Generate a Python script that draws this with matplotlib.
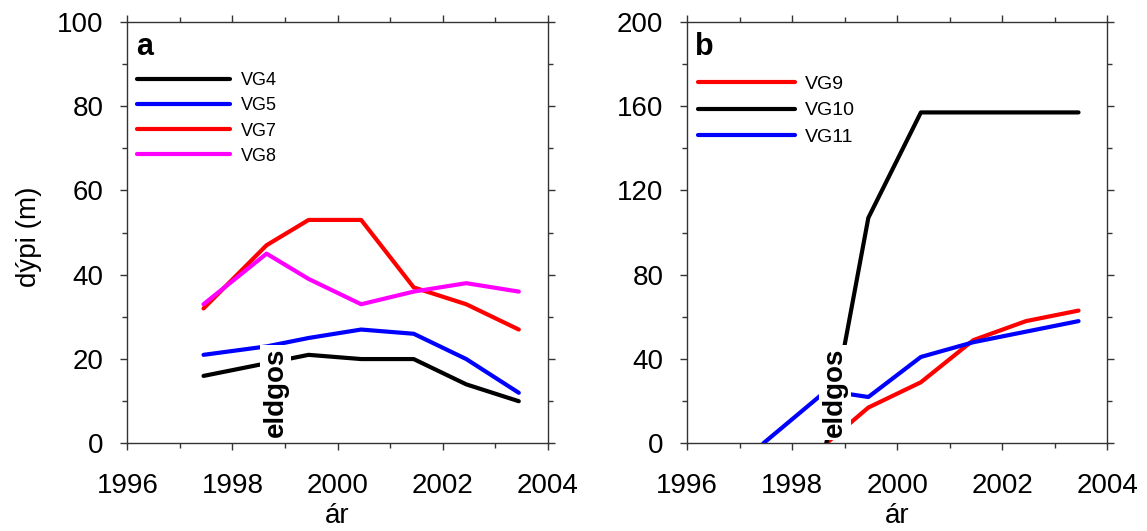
import matplotlib
matplotlib.use("Agg")
import matplotlib.pyplot as plt
from matplotlib.ticker import MultipleLocator

plt.rcParams['font.family'] = ['Liberation Sans', 'DejaVu Sans']

# ---- data (panel a) ----
years_a = [1997.45, 1998.65, 1999.45, 2000.45, 2001.45, 2002.45, 2003.45]
vg4 = [16, 19, 21, 20, 20, 14, 10]
vg5 = [21, 23, 25, 27, 26, 20, 12]
vg7 = [32, 47, 53, 53, 37, 33, 27]
vg8 = [33, 45, 39, 33, 36, 38, 36]

# ---- data (panel b) ----
years_b9 = [1998.65, 1999.45, 2000.45, 2001.45, 2002.45, 2003.45]
vg9 = [0, 17, 29, 49, 58, 63]
years_b10 = [1998.65, 1999.45, 2000.45, 2001.45, 2002.45, 2003.45]
vg10 = [0, 107, 157, 157, 157, 157]
years_b11 = [1997.45, 1998.65, 1999.45, 2000.45, 2001.45, 2002.45, 2003.45]
vg11 = [0, 25, 22, 41, 48, 53, 58]

eruption_year = 1998.82

fig = plt.figure(figsize=(11.47, 5.31), dpi=100)
axA = fig.add_axes([0.111, 0.165, 0.3665, 0.794])
axB = fig.add_axes([0.599, 0.165, 0.3665, 0.794])

LW = 3
FS = 20

def style(ax, ymax, ymaj, ymin):
    ax.set_xlim(1996, 2004)
    ax.set_ylim(0, ymax)
    ax.xaxis.set_major_locator(MultipleLocator(2))
    ax.xaxis.set_minor_locator(MultipleLocator(1))
    ax.yaxis.set_major_locator(MultipleLocator(ymaj))
    ax.yaxis.set_minor_locator(MultipleLocator(ymin))
    ax.tick_params(which='major', direction='out', top=True, right=True,
                   length=5, width=1.0, color='#333333')
    ax.tick_params(which='minor', direction='out', top=True, right=True,
                   length=3.3, width=1.0, color='#333333')
    ax.tick_params(axis='x', which='major', labelsize=FS, pad=16)
    ax.tick_params(axis='y', which='major', labelsize=FS, pad=12)
    for s in ax.spines.values():
        s.set_linewidth(1.0)
        s.set_color('#333333')
    ax.set_xlabel('ár', fontsize=FS, labelpad=3)

# panel a
style(axA, 100, 20, 10)
axA.plot(years_a, vg4, color='black', lw=LW, label='VG4', solid_capstyle='round')
axA.plot(years_a, vg5, color='#0000ff', lw=LW, label='VG5', solid_capstyle='round')
axA.plot(years_a, vg7, color='#ff0000', lw=LW, label='VG7', solid_capstyle='round')
axA.plot(years_a, vg8, color='#ff00ff', lw=LW, label='VG8', solid_capstyle='round')
axA.set_ylabel('dýpi (m)', fontsize=FS)
axA.yaxis.label.set(va='center', ha='center', rotation_mode='default')
axA.yaxis.set_label_coords(-0.235, 0.49)
axA.text(0.02, 0.975, 'a', transform=axA.transAxes, fontsize=22, fontweight='bold',
         va='top', ha='left')
axA.legend(loc='upper left', bbox_to_anchor=(-0.008, 0.91), frameon=False,
           handlelength=5.2, handletextpad=0.6, labelspacing=0.45,
           fontsize=13, borderaxespad=0.3)
axA.text(eruption_year, 1.5, 'eldgos', rotation=90, fontsize=20, fontweight='bold',
         ha='center', va='bottom', zorder=5,
         bbox=dict(facecolor='white', edgecolor='none', pad=2.0))

# panel b
style(axB, 200, 40, 20)
axB.plot(years_b9, vg9, color='#ff0000', lw=LW, label='VG9', solid_capstyle='round')
axB.plot(years_b10, vg10, color='black', lw=LW, label='VG10', solid_capstyle='round')
axB.plot(years_b11, vg11, color='#0000ff', lw=LW, label='VG11', solid_capstyle='round')
axB.text(0.02, 0.975, 'b', transform=axB.transAxes, fontsize=22, fontweight='bold',
         va='top', ha='left')
axB.legend(loc='upper left', bbox_to_anchor=(-0.006, 0.905), frameon=False,
           handlelength=5.0, handletextpad=0.5, labelspacing=0.45,
           fontsize=14, borderaxespad=0.3)
axB.text(eruption_year, 3, 'eldgos', rotation=90, fontsize=20, fontweight='bold',
         ha='center', va='bottom', zorder=5,
         bbox=dict(facecolor='white', edgecolor='none', pad=2.0))

fig.savefig('out.png', dpi=100)
